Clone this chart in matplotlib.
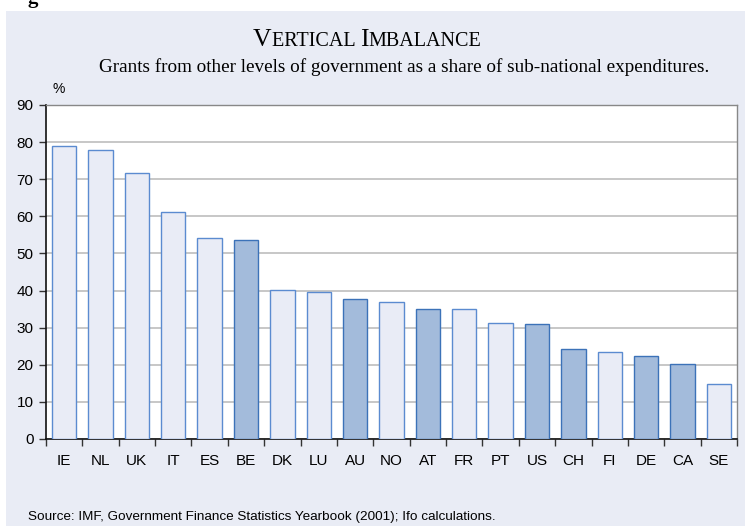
import matplotlib
matplotlib.use("Agg")
import matplotlib.pyplot as plt

countries = ["IE", "NL", "UK", "IT", "ES", "BE", "DK", "LU", "AU", "NO",
             "AT", "FR", "PT", "US", "CH", "FI", "DE", "CA", "SE"]
values = [79.0, 77.9, 71.7, 61.2, 54.2, 53.6, 40.2, 39.6, 37.7, 36.9,
          35.0, 35.0, 31.2, 31.0, 24.2, 23.4, 22.3, 20.1, 14.8]
federal = ["BE", "AU", "AT", "US", "CH", "DE", "CA"]
yticks = [0, 10, 20, 30, 40, 50, 60, 70, 80, 90]

W, H = 745, 526
fig = plt.figure(figsize=(W / 100, H / 100), dpi=100)
fig.patch.set_facecolor("white")

panel_bg = "#E9ECF5"
bg = fig.add_axes([6 / W, 0, 1 - 6 / W, 1 - 11 / H], zorder=-5)
bg.set_facecolor(panel_bg)
bg.set_xticks([])
bg.set_yticks([])
for s in bg.spines.values():
    s.set_visible(False)

# cropped heading fragment at top
fig.text(28 / W, 1 - 3 / H, "g", family="Liberation Serif", weight="bold",
         fontsize=15, va="baseline", ha="left")

ax = fig.add_axes([46 / W, 1 - 439 / H, (737 - 46) / W, (439 - 105) / H])
ax.set_facecolor("white")

light_fill, light_edge = "#E9ECF6", "#5B8BD0"
dark_fill, dark_edge = "#A3BBDB", "#3C72B8"
xs = list(range(len(countries)))
fills = [dark_fill if c in federal else light_fill for c in countries]
edges = [dark_edge if c in federal else light_edge for c in countries]
ax.bar(xs, values, width=0.67, color=fills, edgecolor=edges, linewidth=1.0,
       zorder=3)

ax.set_xlim(-0.5, len(countries) - 0.5)
ax.set_ylim(0, 90)
ax.set_yticks(yticks)
ax.set_yticklabels([str(v) for v in yticks], family="Liberation Sans",
                   fontsize=11)
ax.set_xticks(xs)
ax.set_xticklabels(countries, family="Liberation Sans", fontsize=11)
ax.tick_params(axis="x", length=0, pad=11)
ax.set_xticks([x + 0.5 for x in xs[:-1]] + [-0.5, len(countries) - 0.5],
              minor=True)
ax.tick_params(axis="x", which="minor", length=5, width=1, color="#333333",
               direction="out")
ax.tick_params(axis="y", length=5, width=1, color="#333333", direction="out",
               pad=4)
ax.yaxis.grid(True, color="#BDBDBD", linewidth=1.2, zorder=1)
ax.set_axisbelow(True)
for s in ["left", "bottom"]:
    ax.spines[s].set_color("#111111")
    ax.spines[s].set_linewidth(1.2)
for s in ["top", "right"]:
    ax.spines[s].set_color("#888888")
    ax.spines[s].set_linewidth(1.0)

fig.text(59 / W, 1 - 89 / H, "%", family="Liberation Sans", fontsize=10,
         ha="center", va="center")

# small-caps title
fig.canvas.draw()
renderer = fig.canvas.get_renderer()
pieces = [("V", 18.5), ("ERTICAL ", 14.5), ("I", 18.5), ("MBALANCE", 14.5)]
tmp = []
total = 0
for s, fs in pieces:
    t = fig.text(0, 0, s, family="Liberation Serif", fontsize=fs)
    bb = t.get_window_extent(renderer)
    tmp.append(bb.width)
    total += bb.width
    t.remove()
x0 = 367 - total / 2
base_y = 1 - 46 / H
cur = x0
for (s, fs), w in zip(pieces, tmp):
    fig.text(cur / W, base_y, s, family="Liberation Serif", fontsize=fs,
             va="baseline", ha="left")
    cur += w

fig.text(404 / W, 1 - 67 / H,
         "Grants from other levels of government as a share of sub-national expenditures.",
         family="Liberation Serif", fontsize=13.8, ha="center", va="center")

fig.text(28 / W, 1 - 517 / H,
         "Source: IMF, Government Finance Statistics Yearbook (2001); Ifo calculations.",
         family="Liberation Sans", fontsize=9.7, ha="left", va="center")

fig.savefig("out.png", dpi=100)
